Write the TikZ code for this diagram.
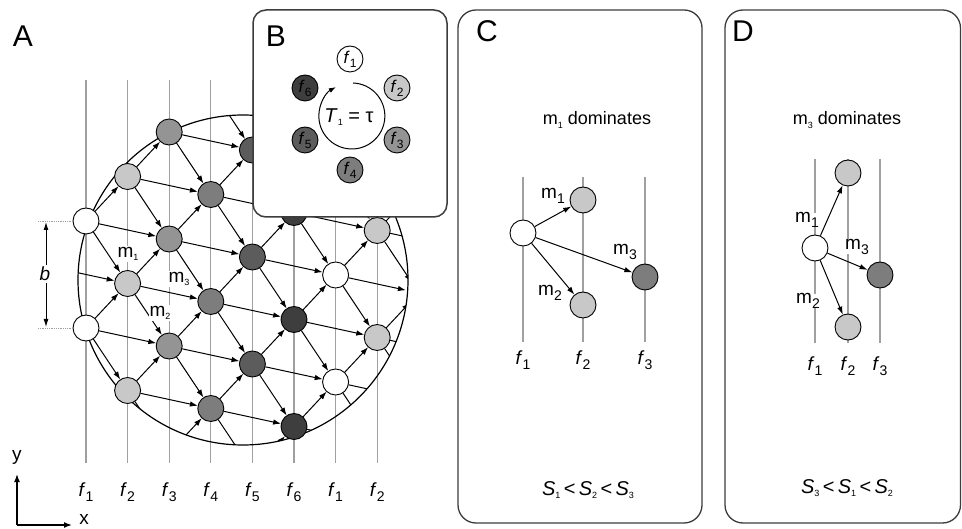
\documentclass[tikz,border=0pt]{standalone}
\usepackage{fontspec}
\setmainfont{Liberation Sans}
\usetikzlibrary{arrows.meta}
\definecolor{fc0}{RGB}{255,255,255}
\definecolor{fc1}{RGB}{200,200,200}
\definecolor{fc2}{RGB}{148,148,148}
\definecolor{fc3}{RGB}{125,125,125}
\definecolor{fc4}{RGB}{92,92,92}
\definecolor{fc5}{RGB}{62,62,62}
\definecolor{flinec}{RGB}{160,160,160}
\definecolor{framec}{RGB}{60,60,60}
\newcommand\bsub[1]{\raisebox{-0.45ex}{\fontsize{14}{14}\selectfont #1}}
\newcommand\tsub[1]{\raisebox{-0.35ex}{\fontsize{9}{9}\selectfont #1}}
\begin{document}
\begin{tikzpicture}[x=1pt,y=-1pt,
  latpt/.style={circle, minimum size=26pt, inner sep=0pt},
  latvis/.style={circle, draw=black, line width=0.9pt, minimum size=26pt, inner sep=0pt},
  edge/.style={line width=1pt, -{Latex[length=8pt,width=5.5pt]}},
  fline/.style={draw=flinec, line width=1.1pt},
  lbl/.style={font=\fontsize{19}{22}\selectfont, inner sep=0pt},
  mlbl/.style={font=\fontsize{19}{22}\selectfont, inner sep=1pt, fill=white},
  panel/.style={font=\fontsize{30}{34}\selectfont, inner sep=0pt},
  framebox/.style={draw=framec, line width=1.3pt, rounded corners=18pt},
  bcirc/.style={circle, draw=black, line width=0.9pt, minimum size=26pt, inner sep=0pt, font=\fontsize{17}{17}\selectfont},
]
\useasboundingbox (0,0) rectangle (962,529);

% ---------------- Panel A ----------------
\node[panel] (labA) at (23,36) {A};
\foreach \i/\t in {0/1,1/2,2/3,3/4,4/5,5/6,6/1,7/2}{
  \pgfmathsetmacro\xx{86+41.6*\i}
  \draw[fline] (\xx,80) -- (\xx,463);
  \node[lbl] (fl\i) at (\xx,492) {\textit{f}\bsub{\t}};
}
% lattice points
\foreach \i in {0,...,12}{
  \foreach \k in {0,...,10}{
    \pgfmathsetmacro\xx{86+41.6*(\i-2)}
    \pgfmathsetmacro\yy{221-44.5*(\i-2)+107*(\k-3)}
    \node[latpt] (p\i-\k) at (\xx,\yy) {};
  }
}
\begin{scope}
  \clip (243,280) circle[radius=165pt];
  \foreach \i in {0,...,12}{
    \foreach \k in {0,...,10}{
      \pgfmathtruncatemacro\ia{\i+1}
      \pgfmathtruncatemacro\ib{\i+2}
      \pgfmathtruncatemacro\kb{\k+1}
      \ifnum\i<12
        \draw[edge] (p\i-\k) -- (p\ia-\k);
        \ifnum\k<10 \draw[edge] (p\i-\k) -- (p\ia-\kb); \fi
      \fi
      \ifnum\i<11
        \ifnum\k<10 \draw[edge] (p\i-\k) -- (p\ib-\kb); \fi
      \fi
    }
  }
\end{scope}
\draw[line width=1.2pt] (243,280) circle[radius=165pt];
\foreach \i/\k in {2/3,2/4,3/3,3/4,3/5,4/3,4/4,4/5,5/4,5/5,5/6,6/4,6/5,6/6,7/5,7/6,7/7,8/5,8/6,8/7,9/6,9/7}{
  \pgfmathtruncatemacro\c{mod(\i-2,6)}
  \node[latvis, fill=fc\c] (v\i-\k) at (p\i-\k) {};
}
\node[mlbl] (am1) at (128,254) {m\tsub{1}};
\node[mlbl] (am3) at (179,279) {m\tsub{3}};
\node[mlbl] (am2) at (160,313) {m\tsub{2}};
% b annotation
\draw[flinec, line width=0.8pt, densely dotted] (38,221) -- (v2-3.west);
\draw[flinec, line width=0.8pt, densely dotted] (38,328) -- (v2-4.west);
\coordinate (bt) at (46,222);
\coordinate (bb) at (46,327);
\draw[line width=1pt, {Latex[length=8pt,width=5pt]}-{Latex[length=8pt,width=5pt]}] (bt) -- (bb);
\node[lbl, fill=white, inner sep=2pt] (blab) at (45,274) {\textit{b}};
% axes
\coordinate (ax0) at (17,525);
\coordinate (axy) at (17,474);
\coordinate (axx) at (72,525);
\draw[line width=1.5pt, -{Latex[length=8pt,width=6pt]}] (ax0) -- (axy);
\draw[line width=1.5pt, -{Latex[length=8pt,width=6pt]}] (ax0) -- (axx);
\node[lbl] (ylab) at (17,457) {y};
\node[lbl] (xlab) at (84,519) {x};

% ---------------- Panel B ----------------
\draw[framebox, rounded corners=13pt, fill=white, line width=1.5pt] (253,10) rectangle (447,217);
\node[panel] (labB) at (276,36) {B};
\foreach \n/\x/\y in {1/350/59, 2/397/88, 3/397/140, 4/350/170, 5/305/140, 6/305/88}{
  \pgfmathtruncatemacro\c{\n-1}
  \node[bcirc, fill=fc\c] (b\n) at (\x,\y) {\textit{f}\raisebox{-0.45ex}{\fontsize{12}{12}\selectfont\n}};
}
\draw[line width=1pt, -{Latex[length=7pt,width=5pt]}] (353.0,83.0) arc[start angle=88, end angle=-241, radius=33pt];
\node[font=\fontsize{20}{22}\selectfont, inner sep=0pt] (tlab) at (349,117) {\textit{T}\tsub{1} = τ};

% ---------------- Panel C ----------------
\draw[framebox] (458,10) rectangle (702,523);
\node[panel] (labC) at (487,31) {C};
\node[font=\fontsize{18}{22}\selectfont, inner sep=0pt] (domC) at (597,120) {m\tsub{1} dominates};
\foreach \x in {523,583,645} \draw[fline] (\x,177) -- (\x,342);
\node[latvis, fill=fc0] (c0) at (523,233) {};
\node[latvis, fill=fc1] (c1) at (583,200) {};
\node[latvis, fill=fc1] (c2) at (583,305) {};
\node[latvis, fill=fc3] (c3) at (645,277) {};
\draw[edge] (c0) -- (c1);
\draw[edge] (c0) -- (c2);
\draw[edge] (c0) -- (c3);
\node[mlbl] (cm1) at (553,196) {m\bsub{1}};
\node[mlbl] (cm2) at (550,293) {m\bsub{2}};
\node[mlbl] (cm3) at (625,252) {m\bsub{3}};
\node[lbl] (cf1) at (523,360) {\textit{f}\bsub{1}};
\node[lbl] (cf2) at (583,360) {\textit{f}\bsub{2}};
\node[lbl] (cf3) at (645,360) {\textit{f}\bsub{3}};
\node[font=\fontsize{20}{22}\selectfont, inner sep=0pt] (cS) at (588,490) {\textit{S}\tsub{1}\,<\,\textit{S}\tsub{2}\,<\,\textit{S}\tsub{3}};

% ---------------- Panel D ----------------
\draw[framebox] (725,10) rectangle (960.5,523);
\node[panel] (labD) at (743,31) {D};
\node[font=\fontsize{18}{22}\selectfont, inner sep=0pt] (domD) at (847,120) {m\tsub{3} dominates};
\foreach \x in {815,848,880} \draw[fline] (\x,159) -- (\x,343);
\node[latvis, fill=fc0] (d0) at (815,248) {};
\node[latvis, fill=fc1] (d1) at (848,173) {};
\node[latvis, fill=fc1] (d2) at (848,327) {};
\node[latvis, fill=fc3] (d3) at (880,275) {};
\draw[edge] (d0) -- (d1);
\draw[edge] (d0) -- (d2);
\draw[edge] (d0) -- (d3);
\node[mlbl, inner sep=0pt] (dm1) at (807,220) {m\bsub{1}};
\node[mlbl, inner sep=0pt] (dm3) at (857,247) {m\bsub{3}};
\node[mlbl, inner sep=0pt] (dm2) at (808,301) {m\bsub{2}};
\node[lbl] (df1) at (815,366) {\textit{f}\bsub{1}};
\node[lbl] (df2) at (848,366) {\textit{f}\bsub{2}};
\node[lbl] (df3) at (880,366) {\textit{f}\bsub{3}};
\node[font=\fontsize{20}{22}\selectfont, inner sep=0pt] (dS) at (847,488) {\textit{S}\tsub{3}\,<\,\textit{S}\tsub{1}\,<\,\textit{S}\tsub{2}};
\end{tikzpicture}
\end{document}
